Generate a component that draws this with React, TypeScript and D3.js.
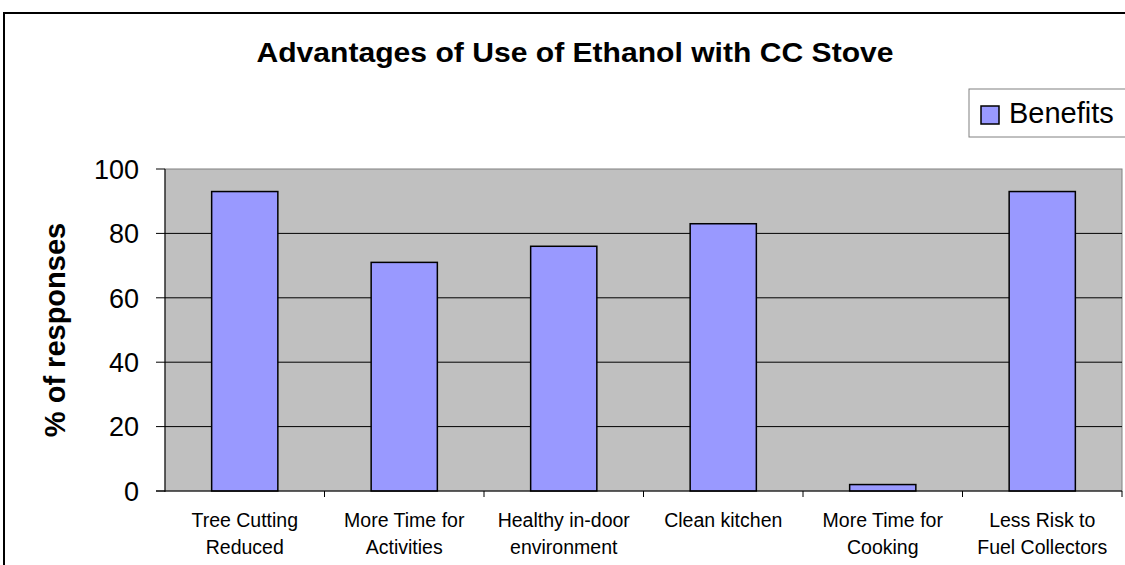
import React from "react";
import * as d3 from "d3";

const categories: string[][] = [
  ["Tree Cutting", "Reduced"],
  ["More Time for", "Activities"],
  ["Healthy in-door", "environment"],
  ["Clean kitchen"],
  ["More Time for", "Cooking"],
  ["Less Risk to", "Fuel Collectors"],
];
const categoryKeys: string[] = categories.map((c) => c.join(" "));
const benefits: number[] = [93, 71, 76, 83, 2, 93];
const yTicks: number[] = [0, 20, 40, 60, 80, 100];
const seriesName = "Benefits";
const title = "Advantages of Use of Ethanol with CC Stove";
const yLabel = "% of responses";

const W = 1125;
const H = 565;
const plot = { left: 165, right: 1122, top: 169, bottom: 491 };
const font = "'Liberation Sans', Arial, sans-serif";

export default function App() {
  const x = d3
    .scaleBand<string>()
    .domain(categoryKeys)
    .range([plot.left, plot.right])
    .paddingInner(0)
    .paddingOuter(0);
  const y = d3.scaleLinear().domain([0, 100]).range([plot.bottom, plot.top]);
  const barW = x.bandwidth() * 0.415;

  return (
    <svg
      width={W}
      height={H}
      style={{ position: "absolute", left: 0, top: 0, background: "#fff" }}
      fontFamily={font}
    >
      <rect x={0} y={0} width={W} height={H} fill="#fff" />
      {/* chart border */}
      <rect x={4} y={13} width={W + 20} height={H + 20} fill="#fff" stroke="#000" strokeWidth={2} />

      <text
        x={575}
        y={62}
        textAnchor="middle"
        fontSize={27}
        fontWeight="bold"
        fill="#000"
        textLength={637}
        lengthAdjust="spacingAndGlyphs"
      >
        {title}
      </text>

      {/* plot area */}
      <rect
        x={plot.left}
        y={plot.top}
        width={plot.right - plot.left}
        height={plot.bottom - plot.top}
        fill="#c0c0c0"
        stroke="#808080"
        strokeWidth={1}
      />
      {/* gridlines */}
      {yTicks.map((t) => (
        <g key={t}>
          {t > 0 && t < 100 && (
            <line x1={plot.left} x2={plot.right} y1={y(t)} y2={y(t)} stroke="#000" strokeWidth={1} />
          )}
          <line x1={plot.left - 9} x2={plot.left} y1={y(t)} y2={y(t)} stroke="#000" strokeWidth={1} />
          <text
            x={plot.left - 26}
            y={y(t)}
            dy="0.36em"
            textAnchor="end"
            fontSize={27}
            fill="#000"
          >
            {t}
          </text>
        </g>
      ))}
      {/* y axis */}
      <line x1={plot.left} x2={plot.left} y1={plot.top} y2={plot.bottom + 1} stroke="#000" strokeWidth={1} />

      {/* bars */}
      {categoryKeys.map((k, i) => {
        const cx = (x(k) as number) + x.bandwidth() / 2;
        return (
          <rect
            key={k}
            x={cx - barW / 2}
            y={y(benefits[i])}
            width={barW}
            height={y(0) - y(benefits[i])}
            fill="#9999ff"
            stroke="#000"
            strokeWidth={1.5}
          />
        );
      })}

      {/* x axis */}
      <line x1={plot.left - 9} x2={plot.right} y1={plot.bottom} y2={plot.bottom} stroke="#000" strokeWidth={1} />
      {categoryKeys.map((k) => (
        <line
          key={"t" + k}
          x1={(x(k) as number) + x.bandwidth()}
          x2={(x(k) as number) + x.bandwidth()}
          y1={plot.bottom}
          y2={plot.bottom + 6}
          stroke="#000"
          strokeWidth={1}
        />
      ))}
      {categoryKeys.map((k, i) => {
        const cx = (x(k) as number) + x.bandwidth() / 2;
        return (
          <text key={"l" + k} x={cx} textAnchor="middle" fontSize={19.5} fill="#000">
            {categories[i].map((line, j) => (
              <tspan key={j} x={cx} y={527 + j * 27}>
                {line}
              </tspan>
            ))}
          </text>
        );
      })}

      {/* y label */}
      <text
        transform={`translate(65, ${(plot.top + plot.bottom) / 2}) rotate(-90)`}
        textAnchor="middle"
        fontSize={29}
        fontWeight="bold"
        fill="#000"
      >
        {yLabel}
      </text>

      {/* legend */}
      <rect x={969} y={89} width={170} height={48} fill="#fff" stroke="#808080" strokeWidth={1} />
      <rect x={981} y={106} width={18} height={18} fill="#9999ff" stroke="#000" strokeWidth={1.5} />
      <text x={1009} y={123} fontSize={29} fill="#000">
        {seriesName}
      </text>
    </svg>
  );
}
